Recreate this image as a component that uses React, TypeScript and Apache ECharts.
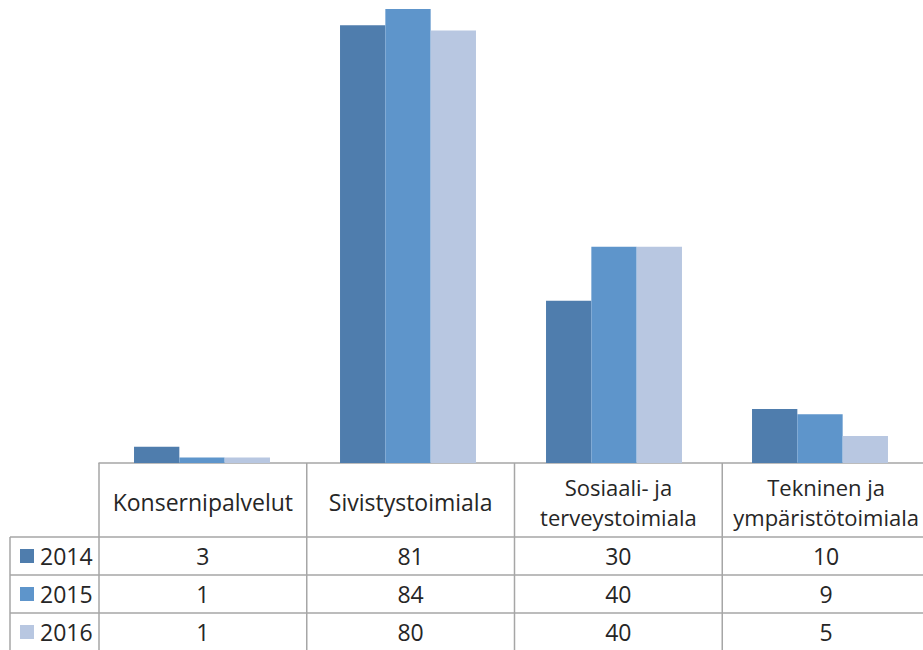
import React, { useEffect, useRef } from "react";
import * as echarts from "echarts";

// Departments, years and counts shown both as bars and in the data table
const categories = [
  "Konsernipalvelut",
  "Sivistystoimiala",
  "Sosiaali- ja\nterveystoimiala",
  "Tekninen ja\nympäristötoimiala",
];
const years = ["2014", "2015", "2016"];
const values2014 = [3, 81, 30, 10];
const values2015 = [1, 84, 40, 9];
const values2016 = [1, 80, 40, 5];
const seriesValues = [values2014, values2015, values2016];
const colors = ["#4F7DAD", "#5E95CB", "#B8C7E1"];

// Layout
const W = 923;
const H = 650;
const GRID_LEFT = 99;
const GRID_W = 831;
const GRID_TOP = 9;
const GRID_H = 454;
const TABLE_LEFT = 10;
const HEADER_BOTTOM = 537;
const ROW_H = 38;
const LINE_COLOR = "#A6A6A6";
const TEXT_COLOR = "#262626";
const FONT = "'Open Sans', 'Noto Sans', sans-serif";
const FONT_SIZE = 23;
const HEADER_FONT_SIZE = 22;
const HEADER_LINE_GAP = 30;

export default function App() {
  const ref = useRef<HTMLDivElement>(null);

  useEffect(() => {
    if (!ref.current) return;
    const chart = echarts.init(ref.current, undefined, { renderer: "svg" });

    const baseline = GRID_TOP + GRID_H;
    const right = GRID_LEFT + GRID_W;
    const catW = GRID_W / categories.length;
    const tableBottom = HEADER_BOTTOM + ROW_H * years.length;

    const graphic: any[] = [];
    const line = (x1: number, y1: number, x2: number, y2: number) =>
      graphic.push({
        type: "line",
        shape: { x1, y1, x2, y2 },
        style: { stroke: LINE_COLOR, lineWidth: 1.5 },
        silent: true,
      });
    const text = (
      s: string,
      x: number,
      y: number,
      align: "left" | "center" = "center",
      size: number = FONT_SIZE
    ) =>
      graphic.push({
        type: "text",
        x,
        y,
        silent: true,
        style: {
          text: s,
          fill: TEXT_COLOR,
          fontSize: size,
          fontFamily: FONT,
          align,
          verticalAlign: "middle",
        },
      });

    // table grid
    line(TABLE_LEFT, HEADER_BOTTOM, right, HEADER_BOTTOM);
    for (let r = 1; r <= years.length; r++) {
      const y = HEADER_BOTTOM + ROW_H * r;
      line(TABLE_LEFT, y, right, y);
    }
    line(TABLE_LEFT, HEADER_BOTTOM, TABLE_LEFT, tableBottom);
    for (let c = 0; c <= categories.length; c++) {
      const x = GRID_LEFT + catW * c;
      line(x, baseline, x, tableBottom);
    }

    // header cells, one text per line so wrapped names stay centred
    categories.forEach((cat, i) => {
      const parts = cat.split("\n");
      const cx = GRID_LEFT + catW * (i + 0.5);
      const cy = (baseline + HEADER_BOTTOM) / 2 + 2;
      parts.forEach((p, k) => {
        const size = parts.length > 1 ? HEADER_FONT_SIZE : FONT_SIZE;
        text(p, cx, cy + (k - (parts.length - 1) / 2) * HEADER_LINE_GAP, "center", size);
      });
    });

    // row labels with legend keys, and values
    years.forEach((yr, r) => {
      const cy = HEADER_BOTTOM + ROW_H * (r + 0.5);
      graphic.push({
        type: "rect",
        shape: { x: 20, y: cy - 7, width: 14, height: 14 },
        style: { fill: colors[r] },
        silent: true,
      });
      text(yr, 40, cy, "left");
      seriesValues[r].forEach((v, i) => {
        text(String(v), GRID_LEFT + catW * (i + 0.5), cy);
      });
    });

    chart.setOption({
      animation: false,
      backgroundColor: "#FFFFFF",
      grid: { left: GRID_LEFT, top: GRID_TOP, width: GRID_W, height: GRID_H },
      xAxis: {
        type: "category",
        data: categories,
        axisLine: { show: true, lineStyle: { color: LINE_COLOR, width: 1.5 } },
        axisTick: { show: false },
        axisLabel: { show: false },
      },
      yAxis: {
        type: "value",
        min: 0,
        max: Math.max(...values2014, ...values2015, ...values2016),
        show: false,
        splitLine: { show: false },
      },
      series: years.map((yr, r) => ({
        name: yr,
        type: "bar",
        data: seriesValues[r],
        itemStyle: { color: colors[r] },
        barGap: "0%",
        barCategoryGap: "34%",
      })),
      graphic,
    });

    return () => chart.dispose();
  }, []);

  return (
    <div
      ref={ref}
      style={{ position: "fixed", left: 0, top: 0, width: W, height: H }}
    />
  );
}
